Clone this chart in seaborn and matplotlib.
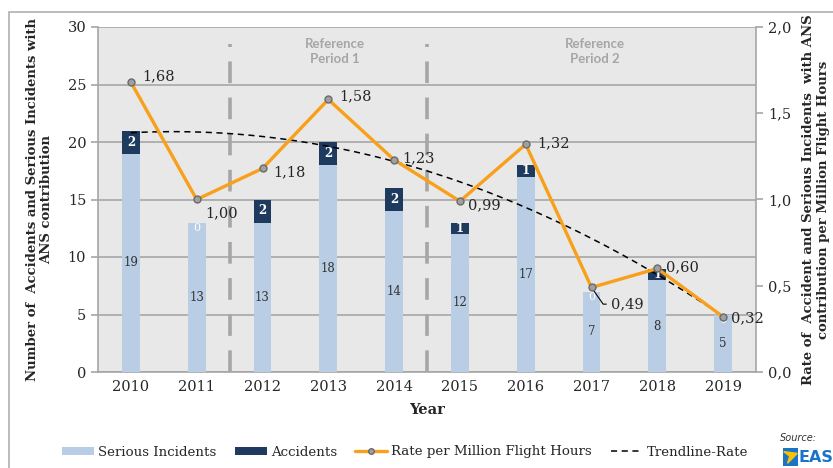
import numpy as np
import pandas as pd
import matplotlib
matplotlib.use("Agg")
import matplotlib.pyplot as plt
import seaborn as sns
from matplotlib.patches import Rectangle, Patch, Polygon
from matplotlib.lines import Line2D
from matplotlib.ticker import FuncFormatter

years = ["2010", "2011", "2012", "2013", "2014", "2015", "2016", "2017", "2018", "2019"]
serious_incidents = [19, 13, 13, 18, 14, 12, 17, 7, 8, 5]
accidents = [2, 0, 2, 2, 2, 1, 1, 0, 1, 0]
rate = [1.68, 1.00, 1.18, 1.58, 1.23, 0.99, 1.32, 0.49, 0.60, 0.32]
period_bounds = [1.5, 4.5]
period_labels = ["Reference\nPeriod 1", "Reference\nPeriod 2"]

C_SI = "#b9cde5"
C_ACC = "#1f3a5f"
C_RATE = "#f8a01a"
C_BG = "#e8e8e8"
C_GRID = "#a6a6a6"

sns.set_theme(style="white")
plt.rcParams["font.family"] = ["DejaVu Serif"]

df = pd.DataFrame({"year": years, "si": serious_incidents, "acc": accidents})
df["total"] = df["si"] + df["acc"]
x = np.arange(len(years))

fig = plt.figure(figsize=(8.33, 4.68), dpi=100)
ax = fig.add_axes([98 / 833, 1 - 372 / 468, (756 - 98) / 833, (372 - 27) / 468])
ax.set_facecolor(C_BG)

sns.barplot(data=df, x="year", y="total", color=C_ACC, width=0.27, ax=ax,
            saturation=1, linewidth=0, zorder=2)
sns.barplot(data=df, x="year", y="si", color=C_SI, width=0.27, ax=ax,
            saturation=1, linewidth=0, zorder=3)

ax.set_xlim(-0.5, len(years) - 0.5)
ax.set_ylim(0, 30)
ax.set_yticks(range(0, 31, 5))
ax.set_axisbelow(True)
ax.yaxis.grid(True, color=C_GRID, lw=1.2)
ax.xaxis.grid(False)
ax.spines["top"].set_visible(False)
for s in ["left", "bottom", "right"]:
    ax.spines[s].set_color(C_GRID)
    ax.spines[s].set_linewidth(1.2)
ax.set_xticks(np.arange(-0.5, len(years), 1), minor=True)
ax.tick_params(axis="x", which="minor", length=5, color=C_GRID, width=1.2, direction="out")
ax.tick_params(axis="x", which="major", length=0, labelsize=10.5, pad=6)
ax.tick_params(axis="y", length=5, color=C_GRID, width=1.2, direction="out", labelsize=10.5)
ax.set_xlabel("Year", fontsize=10.5, fontweight="bold", labelpad=6)
ax.set_ylabel("Number of  Accidents and Serious Incidents with\nANS contribution",
              fontsize=9.5, fontweight="bold", labelpad=10)

# period separators and captions
for b in period_bounds:
    ax.plot([b, b], [0, 28.5], color=C_GRID, lw=2.6, dashes=(6, 4), zorder=4)
for px, lab in zip([3.1, 7.05], period_labels):
    ax.text(px, 27.9, lab, ha="center", va="center", color=C_GRID,
            fontsize=9.5, fontweight="bold", family=["Lato", "DejaVu Sans"],
            linespacing=1.3)

# bar value labels
for i, (s, a) in enumerate(zip(serious_incidents, accidents)):
    ax.text(i, s / 2, str(s), ha="center", va="center", fontsize=8.5,
            color="#333333", zorder=5)
    if a > 0:
        ax.text(i, s + a / 2, str(a), ha="center", va="center", fontsize=8.5,
                color="white", fontweight="bold", zorder=5)
    else:
        ax.text(i, s - 0.5, "0", ha="center", va="center", fontsize=8,
                color="white", zorder=5)

# rate line and quadratic trendline on secondary axis
ax2 = ax.twinx()
ax2.set_ylim(0, 2)
ax2.set_yticks(np.arange(0, 2.01, 0.5))
ax2.yaxis.set_major_formatter(FuncFormatter(lambda v, p: f"{v:.1f}".replace(".", ",")))
ax2.tick_params(axis="y", length=5, color=C_GRID, width=1.2, direction="out", labelsize=10.5)
for s in ax2.spines.values():
    s.set_visible(False)
ax2.grid(False)

coef = np.polyfit(x, rate, 2)
xs = np.linspace(0, len(years) - 1, 200)
ax2.plot(xs, np.polyval(coef, xs), color="black", lw=1.1, dashes=(4, 3), zorder=5)
sns.lineplot(x=x, y=rate, ax=ax2, color=C_RATE, lw=2.4, marker="o", markersize=5,
             markerfacecolor="#a0a0a0", markeredgecolor="#6a6a6a", markeredgewidth=1,
             zorder=6)

offsets = [(8, 4), (6, -10), (8, -3), (8, 2), (6, 1), (6, -3), (8, 1), (0, 0), (6, 1), (6, -1)]
for i, (r, off) in enumerate(zip(rate, offsets)):
    lab = f"{r:.2f}".replace(".", ",")
    if i == 7:
        ax2.annotate(lab, xy=(i, r), xytext=(14, -12), textcoords="offset points",
                     fontsize=10.5, va="center", ha="left",
                     arrowprops=dict(arrowstyle="-", color="black", lw=0.8,
                                     connectionstyle="angle,angleA=0,angleB=-55,rad=0",
                                     shrinkA=1, shrinkB=2))
    else:
        ax2.annotate(lab, xy=(i, r), xytext=off, textcoords="offset points",
                     fontsize=10.5, va="center", ha="left")
ax2.set_ylabel("Rate of  Accident and Serious Incidents  with ANS\ncontribution per Million Flight Hours",
               fontsize=9.5, fontweight="bold", labelpad=8)

# legend
handles = [
    Patch(facecolor=C_SI, edgecolor="none"),
    Patch(facecolor=C_ACC, edgecolor="none"),
    Line2D([], [], color=C_RATE, lw=2.4, marker="o", markersize=4,
           markerfacecolor="#a0a0a0", markeredgecolor="#6a6a6a"),
    Line2D([], [], color="black", lw=1.1, dashes=(4, 3)),
]
labels = ["Serious Incidents", "Accidents", "Rate per Million Flight Hours", "Trendline-Rate"]
fig.legend(handles, labels, loc="center", bbox_to_anchor=(405 / 833, 1 - 452 / 468),
           ncol=4, frameon=False, fontsize=9.6, handlelength=2.4, handleheight=0.55,
           columnspacing=1.4, handletextpad=0.3)

# outer frame
fig.patches.append(Rectangle((9 / 833, -0.1), 1.2, 1 - 12 / 468 + 0.1,
                             transform=fig.transFigure, fill=False,
                             edgecolor="#b0b0b0", lw=1.2))

# source mark
fig.text(780 / 833, 1 - 438 / 468, "Source:", fontsize=7, style="italic",
         family=["DejaVu Sans"], va="center", color="#333333")
logo_ax = fig.add_axes([783 / 833, 1 - 466 / 468, 15 / 833, 18 / 468])
logo_ax.set_xlim(0, 1)
logo_ax.set_ylim(0, 1)
logo_ax.axis("off")
logo_ax.add_patch(Rectangle((0, 0), 1, 1, color="#1a73c8"))
logo_ax.add_patch(Polygon([(0.05, 0.8), (0.95, 0.7), (0.3, 0.15), (0.45, 0.55)],
                          color="#f5c400"))
fig.text(799 / 833, 1 - 457 / 468, "EAS", fontsize=11.5, fontweight="bold",
         color="#1a73c8", va="center", family=["DejaVu Sans"])

fig.savefig("out.png", dpi=100)
